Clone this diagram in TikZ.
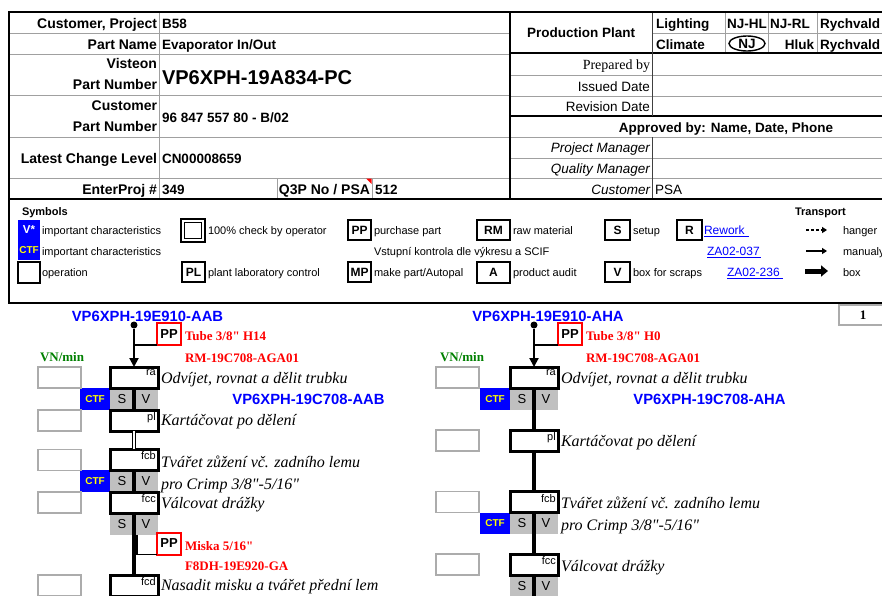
\documentclass[tikz,border=0pt]{standalone}
\usepackage{fontspec}
\setmainfont{Liberation Sans}
\newfontfamily\tnr{Liberation Serif}
\usetikzlibrary{arrows.meta,shapes.geometric}
\definecolor{vblue}{RGB}{0,0,255}
\definecolor{vgrey}{RGB}{192,192,192}
\definecolor{vgreen}{RGB}{0,128,0}
\definecolor{vred}{RGB}{255,0,0}
\definecolor{vyel}{RGB}{255,255,0}
\definecolor{gridc}{RGB}{160,160,160}
\newcommand\fsz[1]{\fontsize{#1}{#1}\selectfont}
\begin{document}
\begin{tikzpicture}[x=1pt,y=-1pt,
  every node/.style={inner sep=0pt,outer sep=0pt},
  grid/.style={draw=gridc,line width=0.9pt},
  frame/.style={draw=black,line width=2.5pt},
  lab/.style={anchor=base east,font=\fsz{14}\bfseries},
  val/.style={anchor=base west,font=\fsz{13.5}\bfseries},
  big/.style={anchor=base west,font=\fsz{20}\bfseries},
  rlab/.style={anchor=base east,font=\fsz{13.5}},
  cel/.style={anchor=base west,font=\fsz{13.5}\bfseries},
  leg/.style={anchor=base west,font=\fsz{11}},
  legb/.style={draw,line width=2pt,minimum height=20,font=\fsz{12}\bfseries},
  op/.style={draw,line width=3pt,fill=white,minimum width=48,minimum height=21},
  oplab/.style={anchor=north east,font=\fsz{11}},
  vn/.style={draw=gray!65,line width=1.8pt,minimum width=43,minimum height=21},
  svs/.style={fill=vgrey,minimum width=24,minimum height=21.5,font=\fsz{13}},
  ctf/.style={fill=vblue,minimum width=30,minimum height=21.5,text=vyel,font=\fsz{10}\bfseries},
  ppbox/.style={draw=vred,line width=2pt,minimum width=24,minimum height=22,font=\fsz{13}\bfseries},
  optxt/.style={anchor=base west,font=\tnr\itshape\fsz{16}},
  redt/.style={anchor=base west,text=vred,font=\tnr\bfseries\fsz{13}},
  pn/.style={anchor=base,text=vblue,font=\fsz{14.8}\bfseries},
  vnt/.style={anchor=base west,text=vgreen,font=\tnr\bfseries\fsz{13}},
  flow/.style={line width=3.2pt},
  dot/.style={circle,fill=black,minimum size=7}
]
\useasboundingbox (0,0) rectangle (882,595);
\clip (0,0) rectangle (882,595);
\fill[white] (0,0) rectangle (882,595);

% ---------------- header grid ----------------
\foreach \yy in {33,54,95,137,178} \draw[grid] (9,\yy) -- (510,\yy);
\draw[grid] (159,12) -- (159,199);
\draw[grid] (277,178) -- (277,199);
\draw[grid] (372,178) -- (372,199);
\draw[grid] (652,33) -- (890,33);
\foreach \yy in {75,96,137,158,178} \draw[grid] (510,\yy) -- (890,\yy);
\foreach \xx in {725,768,817} \draw[grid] (\xx,12) -- (\xx,53);
\draw[black,line width=1.2pt] (510,53) -- (890,53);
\draw[black,line width=2.5pt] (510,116) -- (890,116);
\draw[black!75,line width=1pt] (652,12) -- (652,116);
\draw[black!75,line width=1pt] (652,137) -- (652,199);
\draw[frame] (9,12) rectangle (890,199);
\draw[frame] (510,12) -- (510,199);
\fill[vred] (366,178.5) -- (371.5,178.5) -- (371.5,184) -- cycle;

% left header texts
\node[lab] (l1) at (157,28) {Customer, Project};
\node[val] (v1) at (162,28) {B58};
\node[lab] (l2) at (157,49) {Part Name};
\node[val] (v2) at (162,49) {Evaporator In/Out};
\node[lab] (l3a) at (157,68) {Visteon};
\node[lab] (l3b) at (157,89) {Part Number};
\node[big] (v3) at (162,84) {VP6XPH-19A834-PC};
\node[lab] (l4a) at (157,110) {Customer};
\node[lab] (l4b) at (157,131) {Part Number};
\node[val] (v4) at (162,122) {96 847 557 80 - B/02};
\node[lab] (l5) at (157,163) {Latest Change Level};
\node[val] (v5) at (162,163) {CN00008659};
\node[lab] (l6) at (157,194) {EnterProj \#};
\node[val] (v6) at (162,194) {349};
\node[lab] (l7) at (370,194) {Q3P No / PSA};
\node[val] (v7) at (375,194) {512};

% right header texts
\node[anchor=base,font=\fsz{13.5}\bfseries] (pp1) at (581,37) {Production Plant};
\node[cel] (c1) at (656,28) {Lighting};
\node[cel] (c2) at (727,28) {NJ-HL};
\node[cel] (c3) at (770,28) {NJ-RL};
\node[cel] (c4) at (820,28) {Rychvald};
\node[cel] (c5) at (656,49) {Climate};
\node[ellipse,draw,line width=1.4pt,minimum width=36,minimum height=15,font=\fsz{13.5}\bfseries] (c6) at (747,43.5) {NJ};
\node[anchor=base east,font=\fsz{13.5}\bfseries] (c7) at (814,49) {Hluk};
\node[cel] (c8) at (820,49) {Rychvald};
\node[anchor=base east,font=\tnr\fsz{14}] (r1) at (650,69) {Prepared by};
\node[rlab] (r2) at (650,91) {Issued Date};
\node[rlab] (r3) at (650,111) {Revision Date};
\node[anchor=base,font=\fsz{13.5}\bfseries] (r4) at (726,132) {Approved by: Name, Date, Phone};
\node[rlab,font=\fsz{13.5}\itshape] (r5) at (650,152) {Project Manager};
\node[rlab,font=\fsz{13.5}\itshape] (r6) at (650,173) {Quality Manager};
\node[rlab,font=\fsz{13.5}\itshape] (r7) at (650,194) {Customer};
\node[anchor=base west,font=\fsz{13.5}] (r8) at (655,194) {PSA};

% ---------------- symbols ----------------
\draw[frame] (9,199) rectangle (890,303);
\node[anchor=base west,font=\fsz{11}\bfseries] (symt) at (22,215) {Symbols};
\node[fill=vblue,minimum width=22,minimum height=20,text=white,font=\fsz{11.5}\bfseries] (lgV) at (29,230) {V*};
\node[fill=vblue,minimum width=22,minimum height=20,text=vyel,font=\fsz{10}\bfseries] (lgC) at (29,250) {CTF};
\node[draw,line width=2.2pt,minimum width=22,minimum height=21] (lgO) at (29,272.5) {};
\node[leg] (lt1) at (42,234) {important characteristics};
\node[leg] (lt2) at (42,255) {important characteristics};
\node[leg] (lt3) at (42,276) {operation};
\node[draw,line width=2.6pt,minimum width=24,minimum height=23] (lg100) at (193,230.5) {};
\node[draw,line width=0.7pt,minimum width=17,minimum height=16] (lg100i) at (193,230.5) {};
\node[leg] (lt4) at (208,234) {100\% check by operator};
\node[legb,minimum width=23] (lgPL) at (193.5,272) {PL};
\node[leg] (lt5) at (208,276) {plant laboratory control};
\node[legb,minimum width=23] (lgPP) at (359.5,230) {PP};
\node[leg] (lt6) at (374,234) {purchase part};
\node[leg] (lt7) at (374,255) {Vstupní kontrola dle výkresu a SCIF};
\node[legb,minimum width=23] (lgMP) at (359.5,272) {MP};
\node[leg] (lt8) at (374,276) {make part/Autopal};
\node[legb,minimum width=33] (lgRM) at (493.5,230) {RM};
\node[leg] (lt9) at (513,234) {raw material};
\node[legb,minimum width=33,line width=2.4pt,minimum height=21] (lgA) at (493.5,272.5) {A};
\node[leg] (lt10) at (513,276) {product audit};
\node[legb,minimum width=25] (lgS) at (617.5,230) {S};
\node[leg] (lt11) at (633,234) {setup};
\node[legb,minimum width=25] (lgVV) at (617.5,272) {V};
\node[leg] (lt12) at (633,276) {box for scraps};
\node[legb,minimum width=25] (lgR) at (689.5,230) {R};
\node[leg,text=vblue,font=\fsz{12}] (lk1) at (704,234) {Rework};
\node[leg,text=vblue,font=\fsz{12}] (lk2) at (707,255.5) {ZA02-037};
\node[leg,text=vblue,font=\fsz{12}] (lk3) at (727,276.5) {ZA02-236};
\draw[vblue,line width=0.9pt] ([yshift=-2pt]lk1.base west) -- ([xshift=4pt,yshift=-2pt]lk1.base east);
\draw[vblue,line width=0.9pt] ([yshift=-2pt]lk2.base west) -- ([xshift=1pt,yshift=-2pt]lk2.base east);
\draw[vblue,line width=0.9pt] ([yshift=-2pt]lk3.base west) -- ([xshift=3pt,yshift=-2pt]lk3.base east);
\node[anchor=base west,font=\fsz{11}\bfseries] (trt) at (795,215) {Transport};
\coordinate (ta1) at (806,230); \coordinate (tb1) at (827,230);
\coordinate (ta2) at (806,251); \coordinate (tb2) at (827,251);
\coordinate (ta3) at (805,271); \coordinate (tb3) at (828,271);
\draw[line width=1.8pt,dash pattern=on 3pt off 2pt,-{Triangle[length=5pt,width=6pt]}] (ta1) -- (tb1);
\draw[line width=1.8pt,-{Triangle[length=5pt,width=6pt]}] (ta2) -- (tb2);
\draw[line width=5pt,-{Triangle[length=7pt,width=11pt]}] (ta3) -- (tb3);
\node[leg] (lt13) at (843,234) {hanger};
\node[leg] (lt14) at (843,255) {manualy};
\node[leg] (lt15) at (843,276) {box};

% page number box
\node[draw=gray!65,line width=1.8pt,minimum width=52,minimum height=20,anchor=north west] (pgb) at (839,305) {};
\node[anchor=base,font=\tnr\bfseries\fsz{13}] (pgn) at (863,319) {1};

% ---------------- left flow ----------------
\node[pn] (pnL) at (147.5,321) {VP6XPH-19E910-AAB};
\node[dot] (dotL) at (134,325) {};
\node[ppbox] (ppL) at (169,334) {PP};
\node[redt] (rdL1) at (185,340) {Tube 3/8" H14};
\node[redt] (rdL2) at (185,362) {RM-19C708-AGA01};
\node[vnt] (vnL) at (40,361) {VN/min};

\node[svs] (sL1) at (122,399) {S};
\node[svs] (vvL1) at (146,399) {V};
\node[ctf] (cfL1) at (95,399) {CTF};
\node[svs] (sL2) at (122,481) {S};
\node[svs] (vvL2) at (146,481) {V};
\node[ctf] (cfL2) at (95,481) {CTF};
\node[svs] (sL3) at (122,524) {S};
\node[svs] (vvL3) at (146,524) {V};

\node[op] (raL) at (134,377.5) {};
\node[op] (plL) at (134,420.5) {};
\node[op] (fcbL) at (134,459.5) {};
\node[op] (fccL) at (134,502.5) {};
\node[op] (fcdL) at (134,585.5) {};
\node[ppbox] (pp2L) at (169,543.5) {PP};

\draw[flow] (raL.south) -- (plL.north);
\draw[line width=1.7pt,double,double distance=1.1pt] (plL.south) -- (fcbL.north);
\draw[flow] (fcbL.south) -- (fccL.north);
\draw[flow] (fccL.south) -- (fcdL.north);
\draw[line width=2pt,-{Triangle[length=9pt,width=9pt]}] (dotL) -- (raL.north);
\draw[line width=2pt] (ppL.south west) -- (ppL.south west -| dotL);
\draw[line width=1.3pt] ([xshift=3pt]sL3.south east) |- (pp2L.south west);

\node[oplab] (raLl) at ([xshift=-2.2pt,yshift=-2.6pt]raL.north east) {ra};
\node[oplab] (plLl) at ([xshift=-2.2pt,yshift=-2.6pt]plL.north east) {pl};
\node[oplab] (fcbLl) at ([xshift=-2.2pt,yshift=-2.6pt]fcbL.north east) {fcb};
\node[oplab] (fccLl) at ([xshift=-2.2pt,yshift=-2.6pt]fccL.north east) {fcc};
\node[oplab] (fcdLl) at ([xshift=-2.2pt,yshift=-2.6pt]fcdL.north east) {fcd};

\node[vn] (nL1) at (59.5,377.5) {};
\node[vn] (nL2) at (59.5,420.5) {};
\node[vn] (nL3) at (59.5,460) {};
\node[vn] (nL4) at (59.5,502.5) {};
\node[vn] (nL5) at (59.5,585.5) {};

\node[optxt] (tL1) at (161,383) {Odvíjet, rovnat a dělit trubku};
\node[pn] (pnL2) at (308.5,404) {VP6XPH-19C708-AAB};
\node[optxt] (tL2) at (161,425) {Kartáčovat po dělení};
\node[optxt] (tL3) at (161,467) {Tvářet zůžení vč. zadního lemu};
\node[optxt] (tL4) at (161,489) {pro Crimp 3/8"-5/16"};
\node[optxt] (tL5) at (161,508) {Válcovat drážky};
\node[redt] (rdL3) at (185,550) {Miska 5/16"};
\node[redt] (rdL4) at (185,570) {F8DH-19E920-GA};
\node[optxt] (tL6) at (161,590) {Nasadit misku a tvářet přední lem};

% ---------------- right flow ----------------
\node[pn] (pnR) at (548,321) {VP6XPH-19E910-AHA};
\node[dot] (dotR) at (534,325) {};
\node[ppbox] (ppR) at (570,334) {PP};
\node[redt] (rdR1) at (586,340) {Tube 3/8" H0};
\node[redt] (rdR2) at (586,362) {RM-19C708-AGA01};
\node[vnt] (vnR) at (440,361) {VN/min};

\node[svs] (sR1) at (522,399) {S};
\node[svs] (vvR1) at (546,399) {V};
\node[ctf] (cfR1) at (495,399) {CTF};
\node[svs] (sR2) at (522,523.5) {S};
\node[svs] (vvR2) at (546,523.5) {V};
\node[ctf] (cfR2) at (495,523.5) {CTF};
\node[svs] (sR3) at (522,586) {S};
\node[svs] (vvR3) at (546,586) {V};

\node[op] (raR) at (534,377.5) {};
\node[op] (plR) at (534,440.5) {};
\node[op] (fcbR) at (534,502) {};
\node[op] (fccR) at (534,564.5) {};
\coordinate (endR) at (534,600);

\draw[flow] (raR.south) -- (plR.north);
\draw[flow] (plR.south) -- (fcbR.north);
\draw[flow] (fcbR.south) -- (fccR.north);
\draw[flow] (fccR.south) -- (endR);
\draw[line width=2pt,-{Triangle[length=9pt,width=9pt]}] (dotR) -- (raR.north);
\draw[line width=2pt] (ppR.south west) -- (ppR.south west -| dotR);

\node[oplab] (raRl) at ([xshift=-2.2pt,yshift=-2.6pt]raR.north east) {ra};
\node[oplab] (plRl) at ([xshift=-2.2pt,yshift=-2.6pt]plR.north east) {pl};
\node[oplab] (fcbRl) at ([xshift=-2.2pt,yshift=-2.6pt]fcbR.north east) {fcb};
\node[oplab] (fccRl) at ([xshift=-2.2pt,yshift=-2.6pt]fccR.north east) {fcc};

\node[vn] (nR1) at (457.5,377.5) {};
\node[vn] (nR2) at (457.5,440.5) {};
\node[vn] (nR3) at (457.5,502) {};
\node[vn] (nR4) at (457.5,564.5) {};

\node[optxt] (tR1) at (561,383) {Odvíjet, rovnat a dělit trubku};
\node[pn] (pnR2) at (709.5,404) {VP6XPH-19C708-AHA};
\node[optxt] (tR2) at (561,446) {Kartáčovat po dělení};
\node[optxt] (tR3) at (561,508) {Tvářet zůžení vč. zadního lemu};
\node[optxt] (tR4) at (561,530) {pro Crimp 3/8"-5/16"};
\node[optxt] (tR5) at (561,571) {Válcovat drážky};
\end{tikzpicture}
\end{document}
